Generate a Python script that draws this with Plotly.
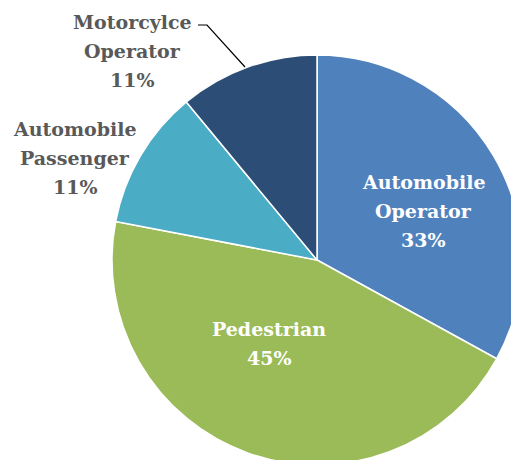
import plotly.graph_objects as go

# Data
labels = ["Automobile Operator", "Pedestrian", "Automobile Passenger", "Motorcylce Operator"]
values = [33, 45, 11, 11]
colors = ["#4F81BD", "#9BBB59", "#4BACC6", "#2C4D75"]

W, H = 634, 520  # figure larger than window; page crops right/bottom like the reference
CX, CY, R = 317, 260, 205


def px(x, y):
    return x / W, 1 - y / H


fig = go.Figure(go.Pie(
    labels=labels,
    values=values,
    sort=False,
    direction="clockwise",
    rotation=0,
    marker=dict(colors=colors, line=dict(color="white", width=1.5)),
    textinfo="none",
    hoverinfo="label+percent",
    domain=dict(x=[0, 1], y=[(H - CY - R) / H, (H - CY + R) / H]),
    showlegend=False,
))

total = sum(values)
# label layout: (center x px, first line y px, text colour)
label_layout = {
    "Automobile Operator": (424, 182, "white"),
    "Pedestrian": (269, 329, "white"),
    "Automobile Passenger": (75, 129, "#595959"),
    "Motorcylce Operator": (132, 22, "#595959"),
}
LINE = 29
annotations = []
for lab, val in zip(labels, values):
    cx, y0, col = label_layout[lab]
    lines = lab.split(" ") + [f"{round(100 * val / total)}%"]
    for i, t in enumerate(lines):
        x, y = px(cx, y0 + i * LINE)
        annotations.append(dict(
            x=x, y=y, xref="paper", yref="paper", text=t, showarrow=False,
            xanchor="center", yanchor="middle",
            font=dict(family="DejaVu Serif", size=19, color=col, weight="bold"),
        ))

# leader line for Motorcycle Operator label
p1, p2, p3 = px(198, 25), px(207, 25), px(245, 67)
shapes = [dict(type="path", xref="paper", yref="paper",
               path=f"M {p1[0]} {p1[1]} L {p2[0]} {p2[1]} L {p3[0]} {p3[1]}",
               line=dict(color="black", width=1.2))]

fig.update_layout(
    width=W, height=H,
    margin=dict(l=0, r=0, t=0, b=0),
    paper_bgcolor="white", plot_bgcolor="white",
    annotations=annotations, shapes=shapes,
)

fig.write_html(
    "out.html",
    post_script="document.body.style.margin='0';document.body.style.overflow='hidden';"
                "document.documentElement.style.overflow='hidden';",
)
